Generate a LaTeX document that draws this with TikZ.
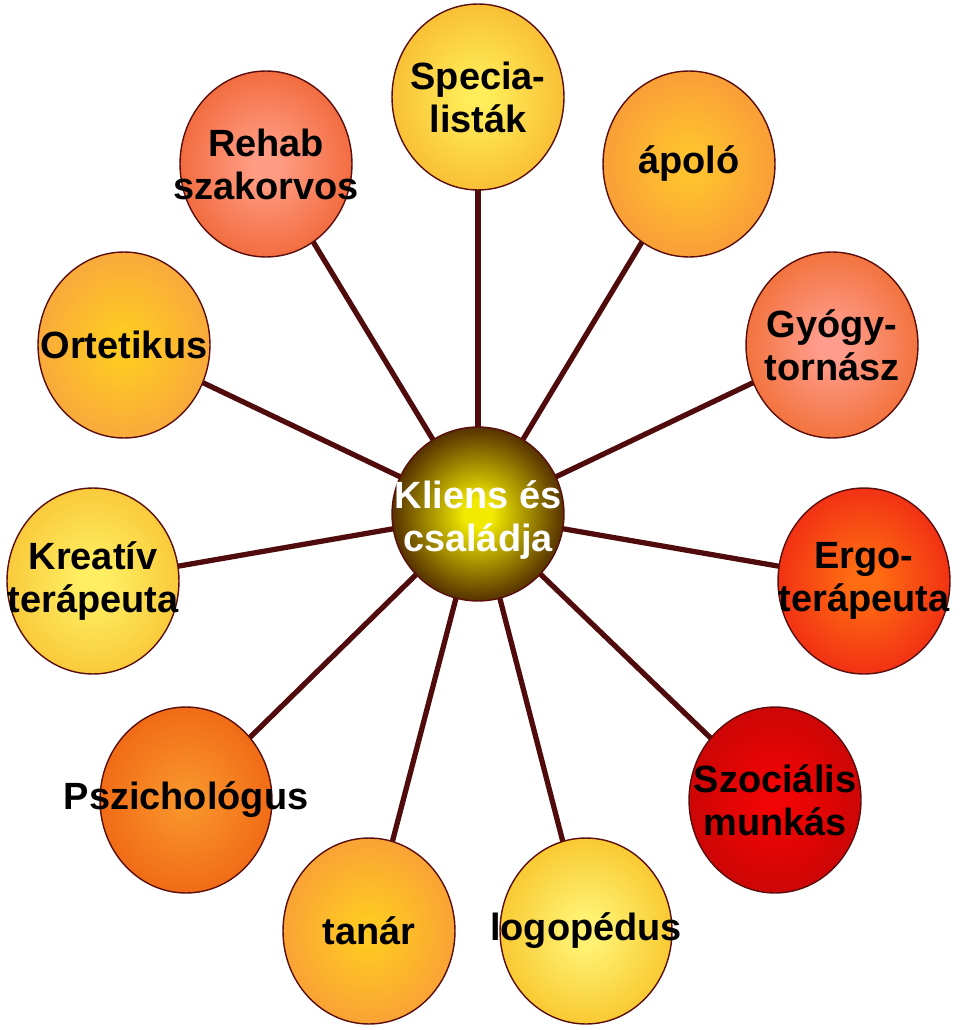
\documentclass[tikz,border=0pt]{standalone}
\usepackage{fontspec}
\newfontfamily\lsans{Liberation Sans}
\usetikzlibrary{shapes.geometric, backgrounds}
\definecolor{rimcol}{RGB}{90, 14, 14}
\definecolor{spokecol}{RGB}{80, 12, 12}
% inner / outer colours of the balls
\definecolor{spin}{HTML}{FFEC58}\definecolor{spout}{HTML}{F7B62E}
\definecolor{apin}{HTML}{FFC22E}\definecolor{apout}{HTML}{F7963A}
\definecolor{gyin}{HTML}{FF9C8C}\definecolor{gyout}{HTML}{EF6A2C}
\definecolor{erin}{HTML}{FF6C12}\definecolor{erout}{HTML}{EE2414}
\definecolor{szin}{HTML}{F20404}\definecolor{szout}{HTML}{C40606}
\definecolor{loin}{HTML}{FFF272}\definecolor{loout}{HTML}{F7C024}
\definecolor{tain}{HTML}{FFC822}\definecolor{taout}{HTML}{F79A3A}
\definecolor{psin}{HTML}{F8922A}\definecolor{psout}{HTML}{EF6212}
\definecolor{krin}{HTML}{FFEE62}\definecolor{krout}{HTML}{F7C232}
\definecolor{orin}{HTML}{FFCA22}\definecolor{orout}{HTML}{F7A242}
\definecolor{rein}{HTML}{FF9C84}\definecolor{reout}{HTML}{EF6230}
\definecolor{klin}{HTML}{F2EA00}\definecolor{klout}{HTML}{300600}
\colorlet{ballin}{white}\colorlet{ballout}{black}
\pgfdeclareradialshading[ballin,ballout]{ball}{\pgfpoint{0bp}{0bp}}%
  {color(0bp)=(ballin); color(4bp)=(ballin); color(30bp)=(ballout); color(50bp)=(ballout)}
\tikzset{
  ballcol/.code 2 args={\colorlet{ballin}{#1}\colorlet{ballout}{#2}},
  member/.style 2 args={ellipse, draw=rimcol, line width=0.8pt, inner sep=0pt,
                minimum width=3.44cm, minimum height=3.72cm, ballcol={#1}{#2}, shading=ball},
  who/.style={font=\lsans\bfseries\fontsize{21.6}{24.5}\selectfont, align=center, inner sep=0pt},
  spoke/.style={draw=spokecol, line width=3pt},
}

\begin{document}
\begin{tikzpicture}[x=0.02cm, y=-0.02cm]
  \useasboundingbox (0,0) rectangle (960,1030);

  \node[member={klin}{klout}, minimum height=3.48cm] (kl) at (478,514) {};
  \node[member={spin}{spout}] (sp) at (478,97) {};
  \node[member={apin}{apout}] (ap) at (689,164) {};
  \node[member={gyin}{gyout}] (gy) at (832,345) {};
  \node[member={erin}{erout}] (er) at (864,581) {};
  \node[member={szin}{szout}] (sz) at (775,800) {};
  \node[member={loin}{loout}] (lo) at (586,931) {};
  \node[member={tain}{taout}] (ta) at (369,931) {};
  \node[member={psin}{psout}] (ps) at (186,800) {};
  \node[member={krin}{krout}] (kr) at (93,581) {};
  \node[member={orin}{orout}] (or) at (124,345) {};
  \node[member={rein}{reout}] (re) at (266,164) {};

  \node[who, text=white, yshift=-0.12cm] (kl-t) at (kl) {Kliens és\\családja};
  \node[who] (sp-t) at (sp) {Specia-\\listák};
  \node[who] (ap-t) at (ap) {ápoló};
  \node[who] (gy-t) at (gy) {Gyógy-\\tornász};
  \node[who] (er-t) at (er) {Ergo-\\terápeuta};
  \node[who] (sz-t) at (sz) {Szociális\\munkás};
  \node[who] (lo-t) at (lo) {logopédus};
  \node[who] (ta-t) at (ta) {tanár};
  \node[who] (ps-t) at (ps) {Pszichológus};
  \node[who] (kr-t) at (kr) {Kreatív\\terápeuta};
  \node[who] (or-t) at (or) {Ortetikus};
  \node[who] (re-t) at (re) {Rehab\\szakorvos};

  \begin{scope}[on background layer]
    \foreach \m in {sp, ap, gy, er, sz, lo, ta, ps, kr, or, re}
      \draw[spoke] (kl.center) -- (\m.center);
  \end{scope}
\end{tikzpicture}
\end{document}
